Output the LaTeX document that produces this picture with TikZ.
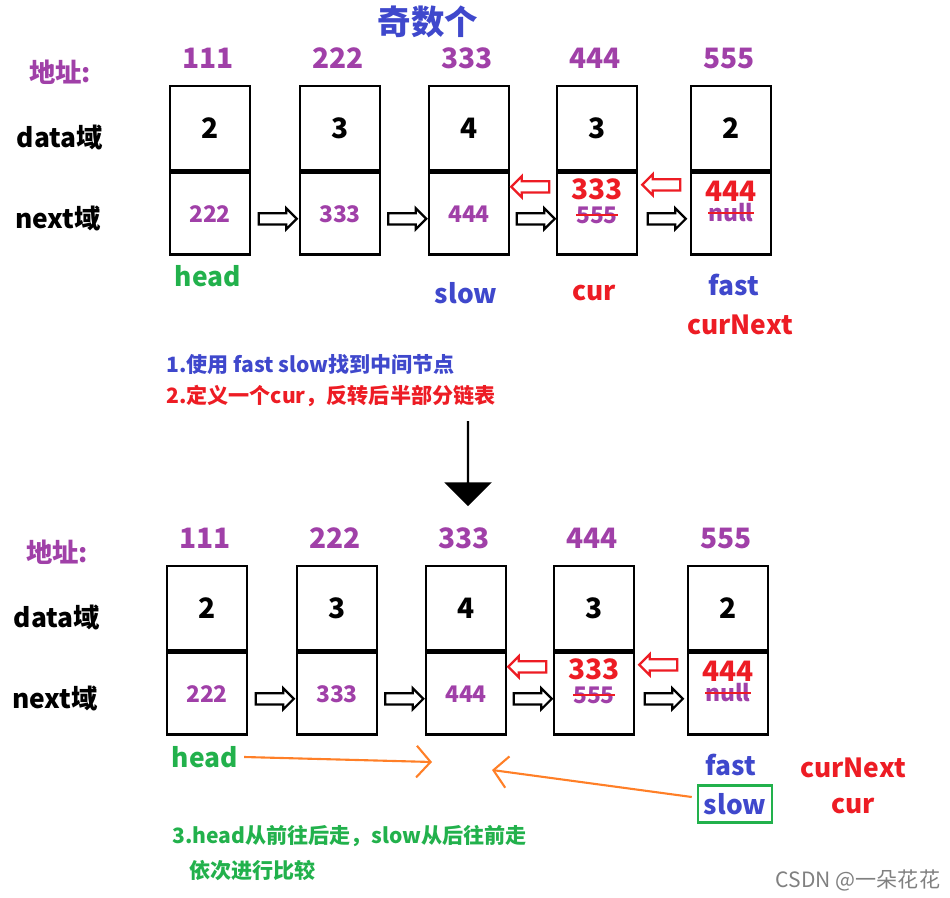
\documentclass[tikz,border=0pt]{standalone}
\usepackage{fontspec}
\setmainfont{Noto Sans CJK SC}
\usetikzlibrary{shapes.arrows,calc,arrows.meta}
\definecolor{addr}{RGB}{160,64,168}
\definecolor{myred}{RGB}{237,28,36}
\definecolor{mygreen}{RGB}{34,177,76}
\definecolor{myblue}{RGB}{63,72,204}
\definecolor{myorange}{RGB}{255,127,39}
\tikzset{>=latex,
  cell/.style={draw, line width=1.6pt, minimum width=1.6cm, inner sep=0pt},
  blk/.style={single arrow, draw, line width=1.3pt, minimum height=0.76cm, single arrow head extend=0.1cm, inner xsep=0pt, inner ysep=0.09cm},
  back/.style={blk, draw=myred, shape border rotate=180},
  lbl/.style={font=\bfseries\fontsize{15}{17}\selectfont},
  small/.style={font=\bfseries\fontsize{13}{15}\selectfont},
  big/.style={font=\bfseries\fontsize{16}{18}\selectfont},
  strike/.style={myred, line width=1.2pt}}
\begin{document}
\begin{tikzpicture}[x=0.02cm, y=-0.02cm]
  \useasboundingbox (0,0) rectangle (950,898);
  \node[myblue, font=\bfseries\fontsize{19}{21}\selectfont] (title) at (428,22) {奇数个};
  % the two halves: before and after
  \foreach \s/\dx/\dy in {a/0/0, b/-3/480}{
    \begin{scope}[shift={(\dx,\dy)}]
      \node[lbl, addr] at (60,72) {地址:};
      \node[lbl] at (60,137) {data域};
      \node[lbl] at (58,218) {next域};
      \foreach \i/\x/\adr/\val in {1/210/111/2, 2/340/222/3, 3/469/333/4, 4/597/444/3, 5/731/555/2}{
        \node[cell, minimum height=1.68cm] (d\s\i) at (\x,128) {};
        \node[cell, minimum height=1.64cm, anchor=north] (n\s\i) at (d\s\i.south) {};
        \node[big] at (d\s\i) {\val};
        \node[big, addr] at (\x-2,58) {\adr};
      }
      \node[small, addr] at (n\s1) {222};
      \node[small, addr] at (n\s2) {333};
      \node[small, addr] at (n\s3) {444};
      \node[big, myred, inner sep=0pt] (r\s4) at (597,189) {333};
      \node[small, addr, inner sep=0pt] (o\s4) at (597,215) {555};
      \draw[strike] (o\s4.west) -- (o\s4.east);
      \node[big, myred, inner sep=0pt] (r\s5) at (731,191) {444};
      \node[small, addr, inner sep=0pt] (o\s5) at (731,213) {null};
      \draw[strike] (o\s5.west) -- (o\s5.east);
      \foreach \i/\j in {1/2, 2/3, 3/4, 4/5}{
        \path ($(n\s\i.east)+(0,5)$) -- ($(n\s\j.west)+(0,5)$) node[midway, blk] {};
      }
      \path ($(n\s3.east)+(0,-27)$) -- ($(n\s4.west)+(0,-27)$) node[midway, back] {};
      \path ($(n\s4.east)+(0,-29)$) -- ($(n\s5.west)+(0,-29)$) node[midway, back] {};
    \end{scope}
  }
  % first half labels
  \node[lbl, mygreen] (heada) at (208,276) {head};
  \node[lbl, myblue] (slowa) at (466,293) {slow};
  \node[lbl, myred] (cura) at (594,293) {cur};
  \node[lbl, myblue] (fasta) at (734,285) {fast};
  \node[lbl, myred] (curnexta) at (740,325) {curNext};
  \node[myblue, anchor=west, font=\bfseries\fontsize{12}{14}\selectfont] (step1) at (160,365) {1.使用 fast slow找到中间节点};
  \node[myred, anchor=west, font=\bfseries\fontsize{12}{14}\selectfont] (step2) at (160,396) {2.定义一个cur，反转后半部分链表};
  \node[single arrow, fill=black, shape border rotate=270, minimum height=1.7cm, minimum width=0.95cm, single arrow head extend=0.14cm, inner xsep=0pt, inner ysep=0.17cm] (down) at (468,463) {};
  % second half labels
  \node[lbl, mygreen] (headb) at (205,757) {head};
  \coordinate (mid1) at (432,762);
  \coordinate (mid2) at (492,770);
  \draw[myorange, line width=1.2pt, -{Straight Barb[length=8pt,width=18pt]}] (headb.east) -- (mid1);
  \node[lbl, myblue] (fastb) at (731,765) {fast};
  \node[lbl, myblue, draw=mygreen, line width=1.4pt, minimum width=1.28cm, minimum height=0.74cm] (slowb) at (735,804) {slow};
  \draw[myorange, line width=1.2pt, -{Straight Barb[length=8pt,width=18pt]}] (slowb.west) ++(-5,-7) -- (mid2);
  \node[lbl, myred] (curnextb) at (853,768) {curNext};
  \node[lbl, myred] (curb) at (853,806) {cur};
  \node[mygreen, anchor=west, font=\bfseries\fontsize{12}{14}\selectfont] (step3) at (166,836) {3.head从前往后走，slow从后往前走};
  \node[mygreen, anchor=west, font=\bfseries\fontsize{12}{14}\selectfont] (step3b) at (183,870) {依次进行比较};
  \node[gray, font=\fontsize{12}{14}\selectfont] (mark) at (858,880) {CSDN @一朵花花};
\end{tikzpicture}
\end{document}
